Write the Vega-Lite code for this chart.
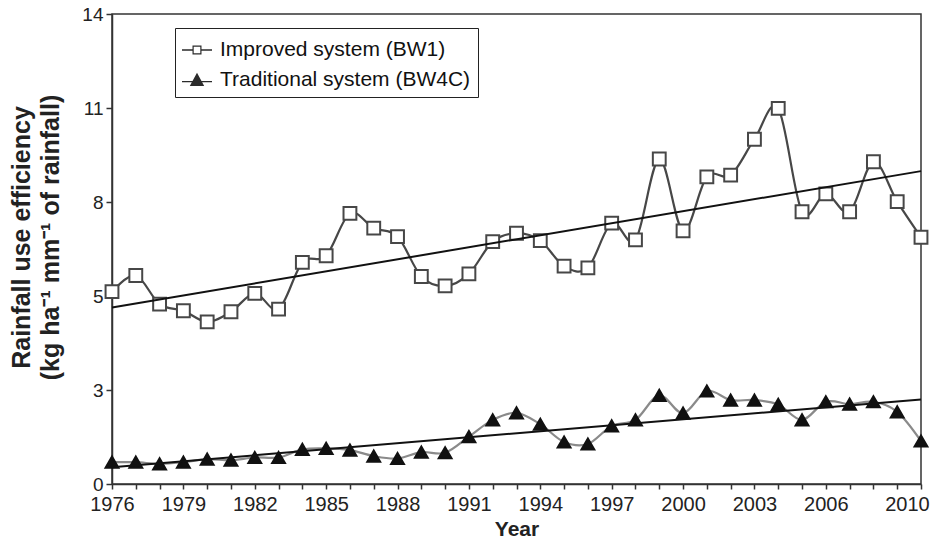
{
  "$schema": "https://vega.github.io/schema/vega-lite/v6.json",
  "width": 809,
  "height": 470,
  "autosize": {"type": "none"},
  "padding": {"left": 112, "top": 14, "right": 11, "bottom": 58},
  "background": "white",
  "config": {
    "view": {"stroke": "#333", "strokeWidth": 1.5},
    "font": "Liberation Sans",
    "axis": {"grid": false, "domainColor": "#333", "domainWidth": 1.5, "tickColor": "#333", "tickWidth": 1.5, "labelColor": "#222", "titleColor": "#222", "labelFont": "Liberation Sans", "titleFont": "Liberation Sans"}
  },
  "datasets": {
    "obs": [
      {"year": 1976, "series": "Improved system (BW1)", "v": 5.73},
      {"year": 1977, "series": "Improved system (BW1)", "v": 6.21},
      {"year": 1978, "series": "Improved system (BW1)", "v": 5.36},
      {"year": 1979, "series": "Improved system (BW1)", "v": 5.16},
      {"year": 1980, "series": "Improved system (BW1)", "v": 4.83},
      {"year": 1981, "series": "Improved system (BW1)", "v": 5.13},
      {"year": 1982, "series": "Improved system (BW1)", "v": 5.68},
      {"year": 1983, "series": "Improved system (BW1)", "v": 5.21},
      {"year": 1984, "series": "Improved system (BW1)", "v": 6.6},
      {"year": 1985, "series": "Improved system (BW1)", "v": 6.8},
      {"year": 1986, "series": "Improved system (BW1)", "v": 8.06},
      {"year": 1987, "series": "Improved system (BW1)", "v": 7.62},
      {"year": 1988, "series": "Improved system (BW1)", "v": 7.37},
      {"year": 1989, "series": "Improved system (BW1)", "v": 6.18},
      {"year": 1990, "series": "Improved system (BW1)", "v": 5.9},
      {"year": 1991, "series": "Improved system (BW1)", "v": 6.26},
      {"year": 1992, "series": "Improved system (BW1)", "v": 7.22},
      {"year": 1993, "series": "Improved system (BW1)", "v": 7.47},
      {"year": 1994, "series": "Improved system (BW1)", "v": 7.25},
      {"year": 1995, "series": "Improved system (BW1)", "v": 6.49},
      {"year": 1996, "series": "Improved system (BW1)", "v": 6.44},
      {"year": 1997, "series": "Improved system (BW1)", "v": 7.77},
      {"year": 1998, "series": "Improved system (BW1)", "v": 7.27},
      {"year": 1999, "series": "Improved system (BW1)", "v": 9.68},
      {"year": 2000, "series": "Improved system (BW1)", "v": 7.54},
      {"year": 2001, "series": "Improved system (BW1)", "v": 9.15},
      {"year": 2002, "series": "Improved system (BW1)", "v": 9.2},
      {"year": 2003, "series": "Improved system (BW1)", "v": 10.27},
      {"year": 2004, "series": "Improved system (BW1)", "v": 11.19},
      {"year": 2005, "series": "Improved system (BW1)", "v": 8.11},
      {"year": 2006, "series": "Improved system (BW1)", "v": 8.64},
      {"year": 2007, "series": "Improved system (BW1)", "v": 8.11},
      {"year": 2008, "series": "Improved system (BW1)", "v": 9.6},
      {"year": 2009, "series": "Improved system (BW1)", "v": 8.41},
      {"year": 2010, "series": "Improved system (BW1)", "v": 7.35},
      {"year": 1976, "series": "Traditional system (BW4C)", "v": 0.65},
      {"year": 1977, "series": "Traditional system (BW4C)", "v": 0.65},
      {"year": 1978, "series": "Traditional system (BW4C)", "v": 0.6},
      {"year": 1979, "series": "Traditional system (BW4C)", "v": 0.65},
      {"year": 1980, "series": "Traditional system (BW4C)", "v": 0.74},
      {"year": 1981, "series": "Traditional system (BW4C)", "v": 0.71},
      {"year": 1982, "series": "Traditional system (BW4C)", "v": 0.79},
      {"year": 1983, "series": "Traditional system (BW4C)", "v": 0.79},
      {"year": 1984, "series": "Traditional system (BW4C)", "v": 1.03},
      {"year": 1985, "series": "Traditional system (BW4C)", "v": 1.06},
      {"year": 1986, "series": "Traditional system (BW4C)", "v": 1.01},
      {"year": 1987, "series": "Traditional system (BW4C)", "v": 0.83},
      {"year": 1988, "series": "Traditional system (BW4C)", "v": 0.76},
      {"year": 1989, "series": "Traditional system (BW4C)", "v": 0.95},
      {"year": 1990, "series": "Traditional system (BW4C)", "v": 0.93},
      {"year": 1991, "series": "Traditional system (BW4C)", "v": 1.41},
      {"year": 1992, "series": "Traditional system (BW4C)", "v": 1.91},
      {"year": 1993, "series": "Traditional system (BW4C)", "v": 2.12},
      {"year": 1994, "series": "Traditional system (BW4C)", "v": 1.78},
      {"year": 1995, "series": "Traditional system (BW4C)", "v": 1.25},
      {"year": 1996, "series": "Traditional system (BW4C)", "v": 1.19},
      {"year": 1997, "series": "Traditional system (BW4C)", "v": 1.73},
      {"year": 1998, "series": "Traditional system (BW4C)", "v": 1.91},
      {"year": 1999, "series": "Traditional system (BW4C)", "v": 2.64},
      {"year": 2000, "series": "Traditional system (BW4C)", "v": 2.11},
      {"year": 2001, "series": "Traditional system (BW4C)", "v": 2.77},
      {"year": 2002, "series": "Traditional system (BW4C)", "v": 2.5},
      {"year": 2003, "series": "Traditional system (BW4C)", "v": 2.5},
      {"year": 2004, "series": "Traditional system (BW4C)", "v": 2.37},
      {"year": 2005, "series": "Traditional system (BW4C)", "v": 1.91},
      {"year": 2006, "series": "Traditional system (BW4C)", "v": 2.45},
      {"year": 2007, "series": "Traditional system (BW4C)", "v": 2.38},
      {"year": 2008, "series": "Traditional system (BW4C)", "v": 2.45},
      {"year": 2009, "series": "Traditional system (BW4C)", "v": 2.15},
      {"year": 2010, "series": "Traditional system (BW4C)", "v": 1.28}
    ],
    "trend": [
      {"year": 1976, "series": "Improved system (BW1)", "v": 5.26},
      {"year": 2010, "series": "Improved system (BW1)", "v": 9.32},
      {"year": 1976, "series": "Traditional system (BW4C)", "v": 0.5},
      {"year": 2010, "series": "Traditional system (BW4C)", "v": 2.52}
    ]
  },
  "encoding": {
    "x": {
      "field": "year", "type": "quantitative",
      "scale": {"domain": [1976, 2010], "nice": false, "zero": false},
      "axis": {
        "title": "Year",
        "titleFontSize": 21, "titleFontWeight": "bold", "titlePadding": 4,
        "values": [1976,1977,1978,1979,1980,1981,1982,1983,1984,1985,1986,1987,1988,1989,1990,1991,1992,1993,1994,1995,1996,1997,1998,1999,2000,2001,2002,2003,2004,2005,2006,2007,2008,2009,2010],
        "labelExpr": "indexof([1976,1979,1982,1985,1988,1991,1994,1997,2000,2003,2006,2010], datum.value) >= 0 ? '' + datum.value : ''",
        "labelOverlap": false,
        "labelFlush": false,
        "labelBound": false,
        "labelFontSize": 20,
        "labelPadding": 5,
        "labelOffset": {"condition": {"test": "datum.value == 2010", "value": -14}, "value": 0},
        "tickSize": 5
      }
    },
    "y": {
      "field": "v", "type": "quantitative",
      "scale": {"domain": [0, 14], "nice": false},
      "axis": {
        "title": ["Rainfall use efficiency", "(kg ha⁻¹ mm⁻¹ of rainfall)"],
        "titleFontSize": 25, "titleFontWeight": "bold", "titleLineHeight": 29,
        "titleY": 223, "titlePadding": 18,
        "values": [0, 2.8, 5.6, 8.4, 11.2, 14],
        "labelExpr": "['0','3','5','8','11','14'][round(datum.value/2.8)]",
        "labelFontSize": 19,
        "labelPadding": 3,
        "tickSize": 6
      }
    }
  },
  "layer": [
    {
      "data": {"name": "obs"},
      "mark": {"type": "line", "interpolate": "cardinal", "strokeWidth": 2.2},
      "encoding": {
        "detail": {"field": "series"},
        "stroke": {"field": "series", "type": "nominal", "legend": null,
          "scale": {"domain": ["Improved system (BW1)", "Traditional system (BW4C)"], "range": ["#474747", "#8a8a8a"]}}
      }
    },
    {
      "data": {"name": "obs"},
      "mark": {"type": "point", "filled": true, "size": 165, "strokeWidth": 2, "opacity": 1},
      "encoding": {
        "shape": {"field": "series", "type": "nominal", "legend": null,
          "scale": {"domain": ["Improved system (BW1)", "Traditional system (BW4C)"], "range": ["square", "triangle-up"]}},
        "fill": {"field": "series", "type": "nominal", "legend": null,
          "scale": {"domain": ["Improved system (BW1)", "Traditional system (BW4C)"], "range": ["white", "#111"]}},
        "stroke": {"field": "series", "type": "nominal", "legend": null,
          "scale": {"domain": ["Improved system (BW1)", "Traditional system (BW4C)"], "range": ["#474747", "#111"]}}
      }
    },
    {
      "data": {"name": "trend"},
      "mark": {"type": "line", "color": "#111", "strokeWidth": 2},
      "encoding": {"detail": {"field": "series"}}
    },
    {
      "data": {"name": "obs"},
      "transform": [{"filter": "datum.year < 0"}],
      "mark": {"type": "point", "filled": true, "color": "#2b2b2b", "opacity": 1, "size": 900, "strokeWidth": 0},
      "encoding": {
        "shape": {"field": "series", "type": "nominal",
          "scale": {"domain": ["Improved system (BW1)", "Traditional system (BW4C)"],
            "range": ["M-1,-0.045H-0.3V0.045H-1Z M0.3,-0.045H1V0.045H0.3Z M-0.3,-0.3H0.3V0.3H-0.3Z M-0.22,-0.22V0.22H0.22V-0.22Z", "M-1,0.07H1V0.15H-1Z M0,-0.48L0.48,0.4H-0.48Z"]},
          "legend": {
            "title": null, "orient": "none", "legendX": 63, "legendY": 14,
            "labelFontSize": 21, "labelColor": "#111", "labelFont": "Liberation Sans", "labelLimit": 0,
            "strokeColor": "#222", "fillColor": "white", "padding": 7,
            "rowPadding": 5, "symbolSize": 900, "labelOffset": 8,
            "symbolStrokeWidth": 0, "symbolFillColor": "#2b2b2b", "symbolOpacity": 1
          }
        }
      }
    }
  ],
  "resolve": {"scale": {"stroke": "independent", "shape": "independent", "fill": "independent"}}
}
